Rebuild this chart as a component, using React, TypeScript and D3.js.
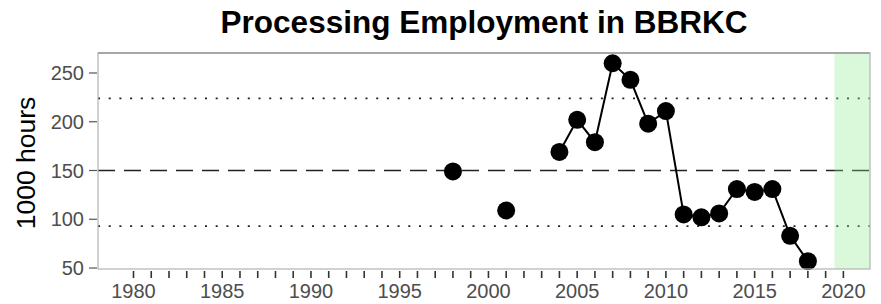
import React from "react";
import { scaleLinear, line, range } from "d3";

// Datos
const years = [1998, 2001, 2004, 2005, 2006, 2007, 2008, 2009, 2010, 2011, 2012, 2013, 2014, 2015, 2016, 2017, 2018];
const hours = [149, 109, 169, 202, 179, 260, 243, 198, 211, 105, 102, 106, 131, 128, 131, 83, 57];
const yTicks = [50, 100, 150, 200, 250];
const xLabels = [1980, 1985, 1990, 1995, 2000, 2005, 2010, 2015, 2020];
const meanLine = 150;
const sdLines = [224, 93];
const shadeStart = 2019.5;

const W = 881;
const H = 304;
const m = { left: 98, right: 870, top: 53, bottom: 269 };

const App: React.FC = () => {
  const x = scaleLinear().domain([1978, 2021.5]).range([m.left, m.right]);
  const y = scaleLinear().domain([49, 270.5]).range([m.bottom, m.top]);

  // Segmentos consecutivos (años sin hueco)
  const pts = years.map((yr, i) => ({ yr, v: hours[i] }));
  const segs: { yr: number; v: number }[][] = [];
  pts.forEach((p, i) => {
    if (i > 0 && p.yr - pts[i - 1].yr === 1) segs[segs.length - 1].push(p);
    else segs.push([p]);
  });
  const path = line<{ yr: number; v: number }>()
    .x((d) => x(d.yr))
    .y((d) => y(d.v));

  return (
    <svg width={W} height={H} style={{ display: "block", position: "absolute", left: 0, top: 0 }}
      fontFamily="'Liberation Sans', Arial, sans-serif">
      <rect width={W} height={H} fill="#fff" />
      <text x={(m.left + m.right) / 2} y={33} textAnchor="middle" fontSize={31.5} fontWeight="bold">
        Processing Employment in BBRKC
      </text>
      <text transform={`translate(35,163) rotate(-90)`} textAnchor="middle" fontSize={26.5}>
        1000 hours
      </text>

      {/* Líneas de referencia */}
      <line x1={m.left} x2={m.right} y1={y(meanLine)} y2={y(meanLine)}
        stroke="#222" strokeWidth={1.6} strokeDasharray="17,9" />
      {sdLines.map((v, i) => (
        <line key={i} x1={m.left} x2={m.right} y1={y(v)} y2={y(v)}
          stroke="#222" strokeWidth={1.8} strokeDasharray="2,8.7" />
      ))}

      {/* Serie */}
      {segs.filter((s) => s.length > 1).map((s, i) => (
        <path key={i} d={path(s) ?? ""} fill="none" stroke="#000" strokeWidth={2} />
      ))}
      {pts.map((p, i) => (
        <circle key={i} cx={x(p.yr)} cy={y(p.v)} r={9} fill="#000" />
      ))}

      {/* Zona sombreada */}
      <rect x={x(shadeStart)} y={m.top} width={m.right - x(shadeStart)} height={m.bottom - m.top}
        fill="#90ee90" fillOpacity={0.33} />

      <rect x={m.left} y={m.top} width={m.right - m.left} height={m.bottom - m.top}
        fill="none" stroke="#b3b3b3" strokeWidth={1.2} />
      <line x1={m.left} x2={m.right} y1={m.top} y2={m.top} stroke="#999" strokeWidth={1.5} />

      {/* Eje Y */}
      {yTicks.map((t) => (
        <g key={t}>
          <line x1={m.left - 9} x2={m.left - 1} y1={y(t)} y2={y(t)} stroke="#555" strokeWidth={1.2} />
          <text x={m.left - 14} y={y(t)} dy="0.36em" textAnchor="end" fontSize={20} fill="#4d4d4d">
            {t}
          </text>
        </g>
      ))}

      {/* Eje X */}
      {range(1980, 2021).map((t) => (
        <line key={t} x1={x(t)} x2={x(t)} y1={m.bottom + 2} y2={m.bottom + 9} stroke="#333" strokeWidth={1.6} />
      ))}
      {xLabels.map((t) => (
        <text key={t} x={x(t)} y={298} textAnchor="middle" fontSize={20} fill="#4d4d4d">
          {t}
        </text>
      ))}
    </svg>
  );
};

export default App;
